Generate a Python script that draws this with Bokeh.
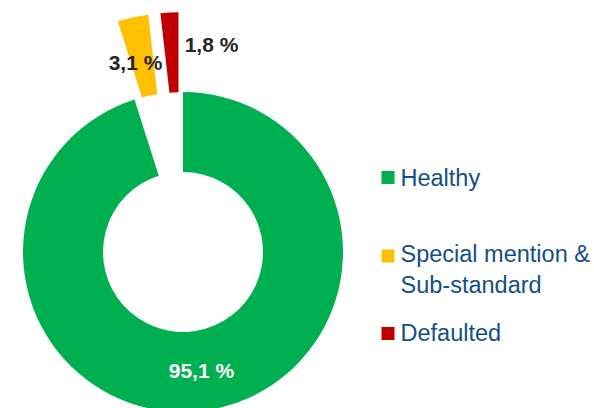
import math
from bokeh.plotting import figure
from bokeh.models import Range1d, ColumnDataSource
from bokeh.embed import file_html
from bokeh.resources import INLINE
from bokeh.core.properties import value

# ---- data ----
categories = ["Healthy", "Special mention &\nSub-standard", "Defaulted"]
shares = [95.1, 3.1, 1.8]
share_labels = ["95,1 %", "3,1 %", "1,8 %"]
colors = ["#00B050", "#FFC000", "#C00000"]

# ---- layout ----
W, H = 594, 408
FONT = "Liberation Sans"
cx, cy = 182.5, 156.5
r_out, r_in = 160, 80
explode = [0, 80, 80]
label_xy = [None, (135, 346), (211, 364)]   # outside labels for exploded slices
legend_sq_x, legend_txt_x = 387.5, 400
legend_sq_y = [231, 152.5, 75]
legend_txt_y = [231, 139, 76]

p = figure(width=W, height=H, x_range=Range1d(0, W), y_range=Range1d(0, H),
           output_backend="svg", toolbar_location=None, min_border=0)
p.axis.visible = False
p.grid.visible = False
p.outline_line_color = None

total = sum(shares)
cum = 0.0
wx, wy, st, en, lx, ly, lc = [], [], [], [], [], [], []
for i, (s, e) in enumerate(zip(shares, explode)):
    a0 = cum / total * 2 * math.pi
    a1 = (cum + s) / total * 2 * math.pi
    cum += s
    mid = math.pi / 2 - (a0 + a1) / 2
    wx.append(cx + e * math.cos(mid))
    wy.append(cy + e * math.sin(mid))
    st.append(math.pi / 2 - a1)
    en.append(math.pi / 2 - a0)
    if label_xy[i] is None:
        rm = (r_in + r_out) / 2
        lx.append(cx + rm * math.cos(mid))
        ly.append(cy + rm * math.sin(mid))
        lc.append("white")
    else:
        lx.append(label_xy[i][0])
        ly.append(label_xy[i][1])
        lc.append("#262626")

src = ColumnDataSource(dict(x=wx, y=wy, start=st, end=en, color=colors))
p.annular_wedge(x="x", y="y", inner_radius=r_in, outer_radius=r_out,
                start_angle="start", end_angle="end", direction="anticlock",
                fill_color="color", line_color=None, source=src)

lab = ColumnDataSource(dict(x=lx, y=ly, text=share_labels, color=lc))
p.text(x="x", y="y", text="text", text_color="color", source=lab,
       text_font=value(FONT), text_font_size="21px", text_font_style="bold",
       text_align="center", text_baseline="middle")

leg = ColumnDataSource(dict(sx=[legend_sq_x] * 3, sy=legend_sq_y,
                            tx=[legend_txt_x] * 3, ty=legend_txt_y,
                            text=categories, color=colors))
p.rect(x="sx", y="sy", width=13, height=13, fill_color="color",
       line_color=None, source=leg)
p.text(x="tx", y="ty", text="text", source=leg, text_color="#134F86",
       text_font=value(FONT), text_font_size="23.5px",
       text_align="left", text_baseline="middle", text_line_height=1.18)

open("out.html", "w").write(file_html(p, INLINE))
